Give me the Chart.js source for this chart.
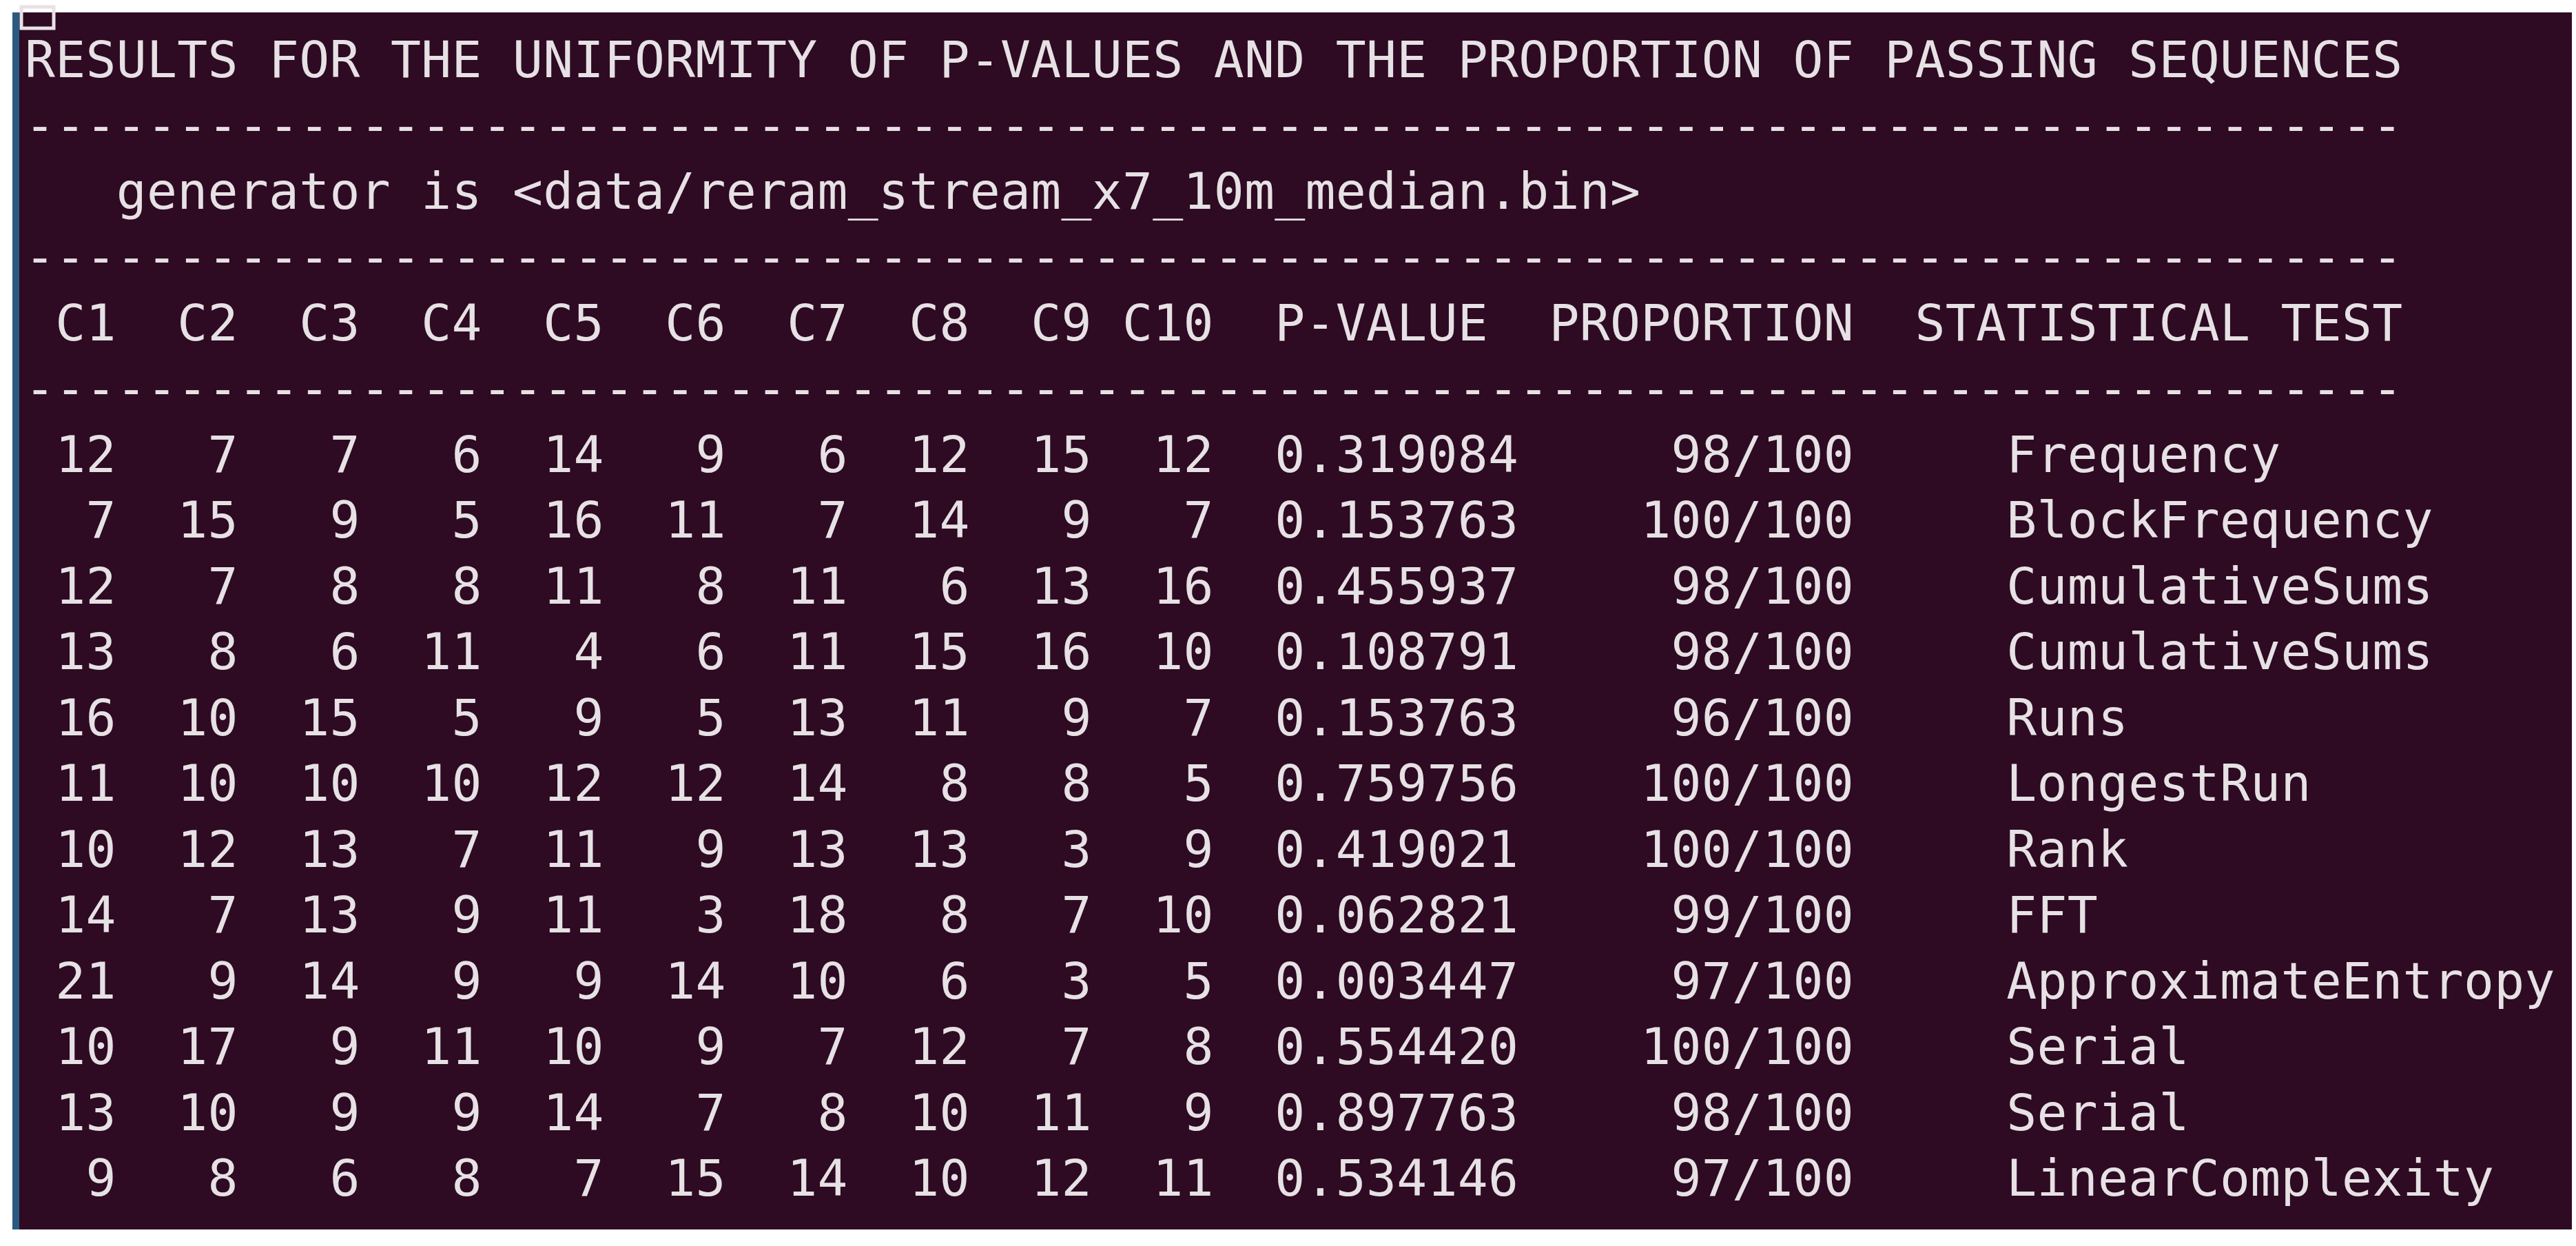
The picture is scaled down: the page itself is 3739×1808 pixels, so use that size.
<!DOCTYPE html>
<html><head><meta charset="utf-8">
<script src="https://cdn.jsdelivr.net/npm/chart.js@4.4.1/dist/chart.umd.min.js"></script>
<style>html,body{margin:0;padding:0;background:#fff;}#wrap{width:3739px;height:1808px;}</style>
</head><body><div id="wrap"><canvas id="c" width="3739" height="1808"></canvas></div>
<script>
const title = "RESULTS FOR THE UNIFORMITY OF P-VALUES AND THE PROPORTION OF PASSING SEQUENCES";
const generatorLine = "   generator is <data/reram_stream_x7_10m_median.bin>";
const header = " C1  C2  C3  C4  C5  C6  C7  C8  C9 C10  P-VALUE  PROPORTION  STATISTICAL TEST";
const tests = ["Frequency","BlockFrequency","CumulativeSums","CumulativeSums","Runs","LongestRun","Rank","FFT","ApproximateEntropy","Serial","Serial","LinearComplexity"];
const counts = [
 [12,7,7,6,14,9,6,12,15,12],
 [7,15,9,5,16,11,7,14,9,7],
 [12,7,8,8,11,8,11,6,13,16],
 [13,8,6,11,4,6,11,15,16,10],
 [16,10,15,5,9,5,13,11,9,7],
 [11,10,10,10,12,12,14,8,8,5],
 [10,12,13,7,11,9,13,13,3,9],
 [14,7,13,9,11,3,18,8,7,10],
 [21,9,14,9,9,14,10,6,3,5],
 [10,17,9,11,10,9,7,12,7,8],
 [13,10,9,9,14,7,8,10,11,9],
 [9,8,6,8,7,15,14,10,12,11]
];
const pValues = ["0.319084","0.153763","0.455937","0.108791","0.153763","0.759756","0.419021","0.062821","0.003447","0.554420","0.897763","0.534146"];
const proportions = ["98/100","100/100","98/100","98/100","96/100","100/100","100/100","99/100","97/100","100/100","98/100","97/100"];

const pad = (s,n)=>{s=String(s);while(s.length<n)s=" "+s;return s;};
const dashes = "-".repeat(78);
const lines = [title, dashes, generatorLine, dashes, header, dashes];
counts.forEach((r,i)=>{
  let s = r.map(v=>pad(v,3)+" ").join("");
  s += " " + pValues[i];
  s += pad(proportions[i], 11);
  s += "     " + tests[i];
  lines.push(s);
});

const term = {
  id:'term',
  beforeDraw(chart){
    const ctx = chart.ctx;
    ctx.save();
    ctx.fillStyle = "#ffffff"; ctx.fillRect(0,0,3739,1808);
    ctx.fillStyle = "#2e0a23"; ctx.fillRect(18,18,3715,1766);
    ctx.fillStyle = "#2a5a82"; ctx.fillRect(18,18,10,1766);
    ctx.strokeStyle = "#e8e2e6"; ctx.lineWidth = 5; ctx.strokeRect(31,10,47,31);
    ctx.fillStyle = "#e6e1e4";
    ctx.font = "73px 'DejaVu Sans Mono'";
    ctx.textBaseline = "middle";
    const pitch = 44.25, x0 = 36;
    lines.forEach((ln,k)=>{
      const y = 93 + k*95.5;
      for(let i=0;i<ln.length;i++){ if(ln[i]!==" ") ctx.fillText(ln[i], x0+i*pitch, y); }
    });
    ctx.restore();
  }
};
new Chart(document.getElementById('c'),{
  type:'bar',
  data:{labels:tests,datasets:[{data:[],backgroundColor:'transparent'}]},
  options:{responsive:false,animation:false,devicePixelRatio:1,
    plugins:{legend:{display:false},tooltip:{enabled:false}},
    scales:{x:{display:false},y:{display:false}}},
  plugins:[term]
});
</script></body></html>
